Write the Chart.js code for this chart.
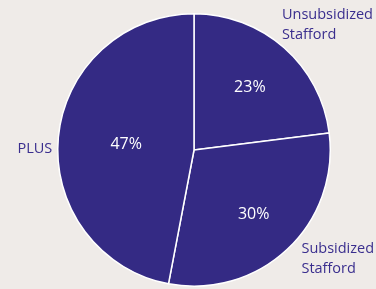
<!DOCTYPE html>
<html>
<head>
<meta charset="utf-8">
<script src="https://cdn.jsdelivr.net/npm/chart.js@4"></script>
<style>
  html, body { margin: 0; padding: 0; background: #efebe8; }
  #wrap { width: 376px; height: 289px; position: relative; }
</style>
</head>
<body>
<div id="wrap"><canvas id="myChart" width="376" height="289"></canvas></div>
<script>

// data
const categories = ['Unsubsidized Stafford', 'Subsidized Stafford', 'PLUS'];
const shares = [23, 30, 47];

// label placement (angle from top in degrees, radius factor, text align)
const outerLabelPos = [
  { angle: 35, r: 1.125, align: 'left', lines: ['Unsubsidized', 'Stafford'] },
  { angle: 135.5, r: 1.125, align: 'left', lines: ['Subsidized', 'Stafford'] },
  { angle: 270.5, r: 1.04, align: 'right', lines: ['PLUS'] }
];
const innerLabelR = [0.62, 0.64, 0.5];

const pieLabels = {
  id: 'pieLabels',
  afterDatasetsDraw(chart) {
    const c = chart.ctx;
    const meta = chart.getDatasetMeta(0);
    c.save();
    c.textBaseline = 'middle';
    meta.data.forEach(function (arc, i) {
      const mid = (arc.startAngle + arc.endAngle) / 2;
      const rr = arc.outerRadius * innerLabelR[i];
      c.fillStyle = '#ffffff';
      c.font = '16px "Open Sans"';
      c.textAlign = 'center';
      c.fillText(shares[i] + '%', arc.x + Math.cos(mid) * rr, arc.y + Math.sin(mid) * rr + 1);

      const p = outerLabelPos[i];
      const a = (p.angle - 90) * Math.PI / 180;
      const ox = arc.x + Math.cos(a) * arc.outerRadius * p.r;
      const oy = arc.y + Math.sin(a) * arc.outerRadius * p.r;
      c.fillStyle = '#3a2e8e';
      c.font = '14.5px "Open Sans"';
      c.textAlign = p.align;
      const lh = 20;
      const top = oy - (p.lines.length - 1) * lh / 2;
      p.lines.forEach(function (t, j) {
        c.fillText(t, ox, top + j * lh);
      });
    });
    c.restore();
  }
};

const ctx = document.getElementById('myChart');

new Chart(ctx, {
  type: 'pie',
  data: {
    labels: categories,
    datasets: [{
      data: shares,
      backgroundColor: '#342a84',
      borderColor: '#ffffff',
      borderWidth: 1.5
    }]
  },
  options: {
    responsive: false,
    animation: false,
    layout: {
      padding: { left: 57, right: 45, top: 13, bottom: 2 }
    },
    plugins: {
      legend: { display: false },
      tooltip: { enabled: false }
    }
  },
  plugins: [pieLabels]
});

</script>
</body>
</html>
